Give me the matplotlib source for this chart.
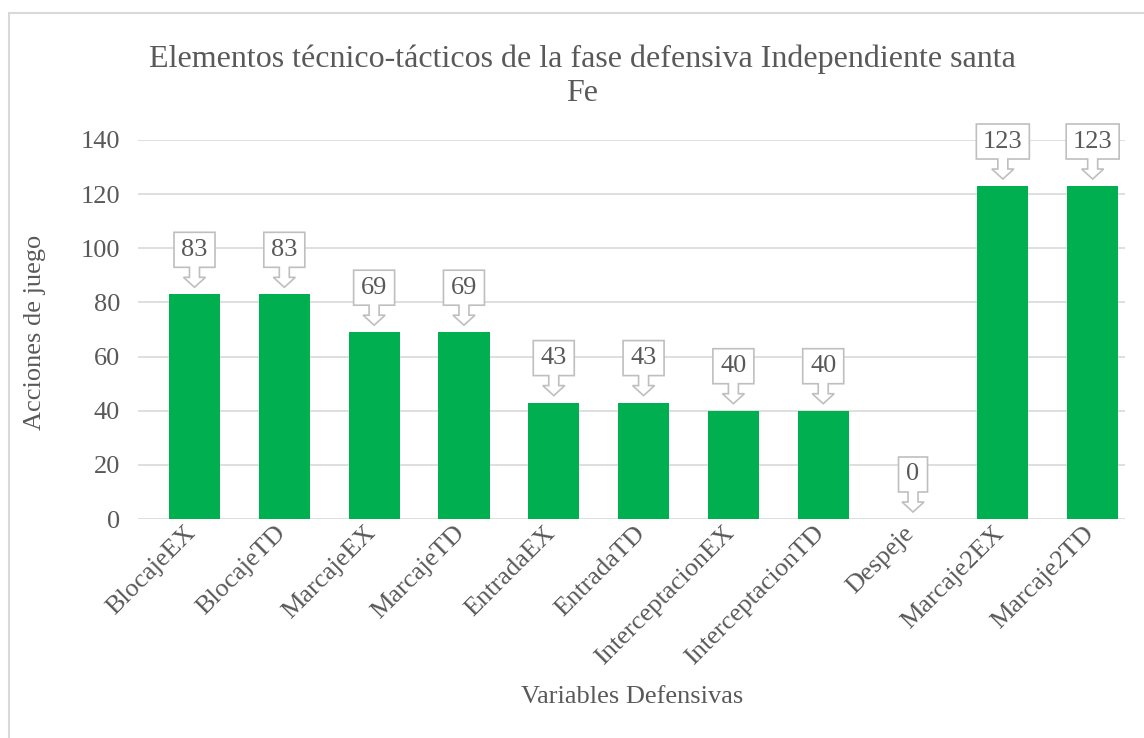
import matplotlib.pyplot as plt
import matplotlib.patches as mpatches
import matplotlib.transforms as mtransforms

categories = ['BlocajeEX', 'BlocajeTD', 'MarcajeEX', 'MarcajeTD', 'EntradaEX',
              'EntradaTD', 'InterceptacionEX', 'InterceptacionTD', 'Despeje',
              'Marcaje2EX', 'Marcaje2TD']
values = [83, 83, 69, 69, 43, 43, 40, 40, 0, 123, 123]
yticks = [0, 20, 40, 60, 80, 100, 120, 140]

title = 'Elementos técnico-tácticos de la fase defensiva Independiente santa\nFe'
xlabel = 'Variables Defensivas'
ylabel = 'Acciones de juego'

W, H = 1144, 738
txt_color = '#595959'
grid_color = '#d9d9d9'
bar_color = '#00b050'
fs = 19

plt.rcParams['font.family'] = ['Liberation Serif', 'DejaVu Serif']


def main():
    fig = plt.figure(figsize=(W / 100, H / 100), dpi=100)
    ax = fig.add_axes([138 / W, 1 - 519 / H, (1125 - 138) / W, (519 - 140) / H])

    x = list(range(len(categories)))
    ax.bar(x, values, width=0.57, color=bar_color, zorder=2)

    ax.set_xlim(-0.629, 10.36)
    ax.set_ylim(0, 140)
    ax.set_yticks(yticks)
    ax.yaxis.grid(True, color=grid_color, lw=1.2, zorder=0)
    ax.set_axisbelow(True)
    for s in ax.spines.values():
        s.set_visible(False)
    ax.tick_params(axis='both', length=0, labelsize=fs, labelcolor=txt_color)
    ax.tick_params(axis='y', pad=13)
    ax.set_xticks(x)
    ax.set_xticklabels(categories, rotation=45, ha='right', va='top',
                       rotation_mode='anchor')
    ax.tick_params(axis='x', pad=8)
    shift = mtransforms.ScaledTranslation(-0.10, 0.08, fig.dpi_scale_trans)
    for lab in ax.get_xticklabels():
        lab.set_transform(lab.get_transform() + shift)

    # down arrow callouts (sizes in px / 100 = inches)
    for xi, v in zip(x, values):
        trans = fig.dpi_scale_trans + mtransforms.ScaledTranslation(xi, v, ax.transData)
        hw = (17 + 12 * len(str(v))) / 2
        pts = [(0, 7), (-11, 17), (-5, 17), (-5, 27), (-hw, 27), (-hw, 62),
               (hw, 62), (hw, 27), (5, 27), (5, 17), (11, 17)]
        pts = [(px / 100, py / 100) for px, py in pts]
        poly = mpatches.Polygon(pts, closed=True, transform=trans, facecolor='white',
                                edgecolor='#bfbfbf', lw=1.2, zorder=3, clip_on=False)
        ax.add_patch(poly)
        ax.text(0, 0.445, str(v), transform=trans, ha='center', va='center',
                fontsize=fs, color=txt_color, zorder=4)

    fig.text(582 / W, 1 - 44 / H, title, ha='center', va='top', fontsize=23,
             color=txt_color, linespacing=1.25)
    fig.text(632 / W, 1 - 697 / H, xlabel, ha='center', va='center', fontsize=fs,
             color=txt_color)
    fig.text(35 / W, 1 - 332 / H, ylabel, ha='center', va='center', fontsize=fs,
             color=txt_color, rotation=90)

    border = mpatches.Rectangle((9 / W, -0.1), 2, 1 - 13 / H + 0.1, transform=fig.transFigure,
                                fill=False, edgecolor=grid_color, lw=1.5)
    fig.patches.append(border)

    fig.savefig('out.png', dpi=100)


if __name__ == "__main__":
    main()
